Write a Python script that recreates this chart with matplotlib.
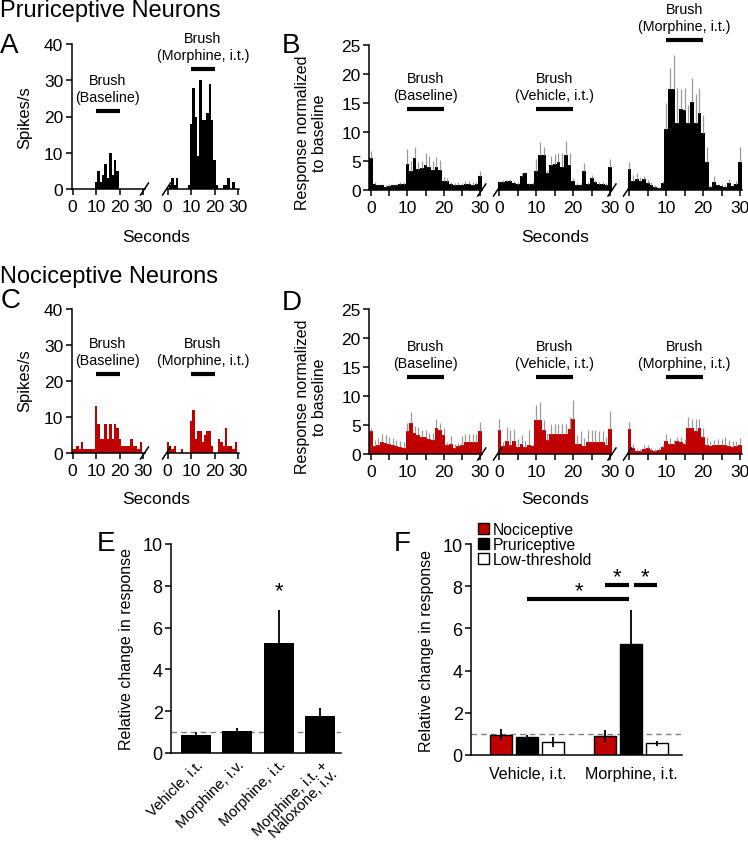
import numpy as np
import matplotlib
matplotlib.use('Agg')
import matplotlib.pyplot as plt
from matplotlib.patches import Patch

plt.rcParams['font.family'] = ['Liberation Sans', 'DejaVu Sans']

W, H = 748, 853
RED = '#c00000'
GRAY = '#9a9a9a'

# ---- PSTH data (1 s bins centred on 0..30 s) ----
# A: pruriceptive single unit, spikes/s
A_base = [0, 0, 0, 0, 0, 0, 0, 0, 0, 0, 2, 5, 2, 4, 7, 3, 10, 4, 8, 5,
          0, 0, 0, 0, 0, 0, 0, 0, 0, 0, 0]
A_morph = [0, 1, 3, 1, 3, 0, 0, 0, 0, 1, 18, 28, 20, 9, 30, 19, 19, 21, 29, 19,
           8, 1, 0, 0, 1, 1, 3, 0, 2, 0, 0]
# C: nociceptive single unit, spikes/s
C_base = [1, 1, 2, 1, 3, 1, 1, 1, 1, 1, 13, 8, 4, 4, 8, 4, 8, 4, 8, 7,
          4, 2, 2, 2, 2, 4, 2, 2, 1, 3, 0]
C_morph = [3, 2, 1, 2, 0, 0, 1, 0, 0, 0, 9, 12, 4, 6, 6, 3, 5, 6, 6, 2,
           0, 0, 4, 3, 2, 7, 2, 2, 1, 3, 0]

# B: pruriceptive population, normalized response (mean, SEM)
B_base = [5.5, 1.0, 0.8, 0.8, 0.6, 0.7, 0.8, 0.8, 1.0, 1.1, 4.4, 3.2, 5.5, 3.7, 3.8, 4.3,
          4.0, 3.5, 4.0, 3.5, 1.6, 1.6, 1.0, 0.8, 0.9, 0.8, 1.0, 1.1, 0.9, 1.0, 2.4]
B_base_sem = [1.2, 0.3, 0.3, 0.3, 0.3, 0.3, 0.3, 0.3, 0.3, 0.3, 2.6, 1.8, 1.9, 1.1, 1.2, 2.1,
              1.9, 1.5, 1.7, 1.7, 0.7, 0.4, 0.3, 0.4, 0.4, 0.4, 0.5, 0.4, 0.4, 0.4, 0.8]
B_veh = [1.3, 1.4, 1.5, 1.6, 1.2, 1.0, 2.4, 2.9, 1.0, 1.0, 3.3, 6.0, 6.0, 2.9, 4.3, 4.5,
         4.8, 4.0, 6.0, 4.3, 1.6, 0.9, 0.9, 3.3, 1.0, 2.0, 1.4, 1.0, 1.0, 0.9, 4.0]
B_veh_sem = [0.3, 0.3, 0.3, 0.3, 0.3, 0.3, 0.6, 0.2, 0.2, 0.3, 2.0, 2.2, 1.5, 0.5, 1.5, 1.7,
             1.5, 2.3, 2.5, 2.0, 0.5, 0.3, 0.3, 1.3, 0.3, 0.6, 0.3, 0.3, 0.3, 0.3, 1.3]
B_morph = [3.7, 1.6, 1.9, 1.6, 1.9, 1.2, 0.9, 0.5, 0.4, 1.2, 10.5, 17.4, 17.5, 11.5, 14.0, 13.8,
           11.5, 15.2, 11.5, 13.2, 9.8, 4.9, 0.5, 1.4, 0.8, 0.7, 0.5, 1.2, 0.7, 1.0, 4.9]
B_morph_sem = [1.2, 1.0, 1.1, 0.6, 0.5, 0.5, 0.5, 0.3, 0.2, 0.4, 4.5, 3.7, 5.7, 6.1, 3.4, 3.8,
               3.1, 4.1, 5.0, 4.4, 3.2, 2.6, 0.3, 1.1, 0.3, 0.3, 0.3, 0.7, 0.3, 0.5, 2.5]

# D: nociceptive population, normalized response (mean, SEM)
D_base = [4.0, 1.3, 1.5, 2.0, 1.9, 1.7, 1.5, 1.3, 1.2, 1.1, 3.9, 5.3, 3.7, 3.3, 2.9, 2.9,
          2.6, 2.5, 4.5, 4.1, 3.3, 1.5, 1.8, 1.1, 1.3, 1.6, 2.1, 2.1, 2.1, 2.0, 4.0]
D_base_sem = [0.4, 1.2, 1.3, 1.5, 1.3, 1.3, 1.2, 1.1, 1.0, 0.9, 1.5, 2.0, 1.2, 1.3, 1.3, 1.2,
              1.1, 1.1, 1.5, 1.3, 1.1, 0.6, 1.3, 0.6, 0.6, 1.5, 1.3, 1.4, 1.4, 1.4, 1.6]
D_veh = [4.1, 1.3, 2.3, 1.5, 2.3, 1.2, 1.8, 1.2, 1.5, 1.3, 5.8, 5.8, 4.2, 2.4, 3.4, 3.4,
         3.4, 3.5, 3.5, 4.3, 6.0, 1.7, 1.7, 1.4, 2.0, 2.0, 2.1, 2.0, 2.0, 1.6, 4.3]
D_veh_sem = [1.9, 0.7, 2.3, 2.7, 2.0, 1.4, 1.4, 1.0, 2.6, 0.5, 2.7, 3.2, 1.7, 1.2, 1.7, 1.7,
             1.7, 1.7, 1.7, 2.1, 3.3, 1.5, 2.3, 1.3, 2.2, 2.2, 2.1, 2.0, 2.0, 1.4, 3.1]
D_morph = [4.3, 1.1, 0.5, 0.6, 0.9, 1.0, 0.7, 0.6, 0.7, 1.2, 2.2, 1.7, 1.7, 2.2, 2.0, 1.7,
           4.5, 4.4, 4.0, 4.5, 3.0, 1.6, 1.3, 1.5, 1.5, 1.6, 1.6, 1.3, 1.2, 1.3, 1.6]
D_morph_sem = [1.3, 0.6, 0.3, 0.3, 0.6, 0.5, 0.3, 0.3, 0.3, 0.3, 1.2, 1.0, 0.8, 0.8, 0.9, 0.9,
               1.9, 1.7, 2.0, 1.6, 1.5, 1.4, 1.0, 0.9, 1.1, 1.0, 1.3, 1.2, 1.0, 1.0, 1.2]

# E: pruriceptive neurons, relative change
E_labels = ['Vehicle, i.t.', 'Morphine, i.v.', 'Morphine, i.t.', 'Morphine, i.t. +\nNaloxone, i.v.']
E_mean = [0.84, 1.05, 5.28, 1.79]
E_sem = [0.16, 0.14, 1.55, 0.36]

# F: by neuron class
F_groups = ['Vehicle, i.t.', 'Morphine, i.t.']
F_classes = ['Nociceptive', 'Pruriceptive', 'Low-threshold']
F_mean = {'Nociceptive': [0.97, 0.90], 'Pruriceptive': [0.84, 5.28], 'Low-threshold': [0.63, 0.55]}
F_sem = {'Nociceptive': [0.28, 0.27], 'Pruriceptive': [0.11, 1.60], 'Low-threshold': [0.23, 0.10]}
F_colors = {'Nociceptive': RED, 'Pruriceptive': 'black', 'Low-threshold': 'white'}

fig = plt.figure(figsize=(W / 100, H / 100), dpi=100)


def px_axes(left, right, top, bottom):
    return fig.add_axes([left / W, 1 - bottom / H, (right - left) / W, (bottom - top) / H])


def ftext(x, y, s, **kw):
    fig.text(x / W, 1 - y / H, s, **kw)


def segment(bounds, top, bottom, vals, sem, color, ymax, ystep, idx, nseg, minor):
    left, right = bounds
    ax = px_axes(left, right, top, bottom)
    t = np.arange(len(vals))
    v = np.asarray(vals, dtype=float)
    ax.bar(t, v, width=1.0, color=color, linewidth=0)
    if sem is not None:
        ax.vlines(t, v, v + np.asarray(sem), color=GRAY, lw=0.9)
    ax.set_xlim(-0.5, 30.5)
    ax.set_ylim(0, ymax)
    ax.spines['top'].set_visible(False)
    ax.spines['right'].set_visible(False)
    ax.spines['bottom'].set_linewidth(1.1)
    ax.set_xticks([0, 10, 20, 30])
    if minor:
        ax.set_xticks([5, 15, 25], minor=True)
    ax.tick_params(axis='x', which='both', direction='out', length=4, width=1.1,
                   labelsize=12.5, pad=3)
    if idx == 0:
        ax.spines['left'].set_linewidth(1.1)
        ax.set_yticks(np.arange(0, ymax + 1, ystep))
        ax.tick_params(axis='y', direction='out', length=4, width=1.1, labelsize=12.5, pad=2)
    else:
        ax.spines['left'].set_visible(False)
        ax.set_yticks([])
    dx, dy = 4 / (right - left), 6 / (bottom - top)
    kw = dict(transform=ax.transAxes, color='black', lw=1.1, clip_on=False)
    if idx < nseg - 1:
        ax.plot([1 - dx, 1 + dx], [-dy, dy], **kw)
    if idx > 0:
        ax.plot([-dx, dx], [-dy, dy], **kw)
    return ax


def brush(ax, y, label):
    ax.plot([10, 20], [y, y], color='black', lw=3, solid_capstyle='butt', clip_on=False)
    ax.annotate('Brush\n' + label, (15, y), xytext=(0, 5), textcoords='offset points',
                ha='center', va='bottom', fontsize=10.3, linespacing=1.3, annotation_clip=False)


AC_SEGS = [(71.5, 144.5), (166.5, 239.2)]
BD_SEGS = [(369.2, 481.8), (497.5, 612.0), (627.5, 741.8)]

# ---- A ----
for i, (vals, y, lab) in enumerate([(A_base, 21.5, '(Baseline)'), (A_morph, 33, '(Morphine, i.t.)')]):
    ax = segment(AC_SEGS[i], 45, 190, vals, None, 'black', 40, 10, i, 2, False)
    brush(ax, y, lab)
# ---- B ----
for i, (vals, sem, y, lab) in enumerate([(B_base, B_base_sem, 14, '(Baseline)'),
                                         (B_veh, B_veh_sem, 14, '(Vehicle, i.t.)'),
                                         (B_morph, B_morph_sem, 25.8, '(Morphine, i.t.)')]):
    ax = segment(BD_SEGS[i], 46, 191, vals, sem, 'black', 25, 5, i, 3, True)
    brush(ax, y, lab)
# ---- C ----
for i, (vals, lab) in enumerate([(C_base, '(Baseline)'), (C_morph, '(Morphine, i.t.)')]):
    ax = segment(AC_SEGS[i], 310, 454, vals, None, RED, 40, 10, i, 2, False)
    brush(ax, 22, lab)
# ---- D ----
for i, (vals, sem, lab) in enumerate([(D_base, D_base_sem, '(Baseline)'),
                                      (D_veh, D_veh_sem, '(Vehicle, i.t.)'),
                                      (D_morph, D_morph_sem, '(Morphine, i.t.)')]):
    ax = segment(BD_SEGS[i], 310, 455, vals, sem, RED, 25, 5, i, 3, True)
    brush(ax, 13.3, lab)

# axis labels / titles for A-D
for yb, title in [(17.5, 'Pruriceptive Neurons'), (283, 'Nociceptive Neurons')]:
    ftext(0, yb, title, fontsize=17, va='baseline', ha='left')
for x, yb, letter in [(0, 53, 'A'), (282, 53, 'B'), (1, 308, 'C'), (282, 310, 'D'),
                      (97, 551, 'E'), (394, 551, 'F')]:
    ftext(x, yb, letter, fontsize=20, va='baseline', ha='left')
for yc in (118, 381):
    ftext(25, yc, 'Spikes/s', fontsize=12, rotation=90, ha='center', va='center')
for yc in (133, 397):
    ftext(311, yc, 'Response normalized\nto baseline', fontsize=11.5, rotation=90,
          ha='center', va='center', linespacing=1.1)
for x, yc in [(156, 237), (555, 237), (156, 500), (555, 500)]:
    ftext(x, yc, 'Seconds', fontsize=12.5, ha='center', va='center')

# ---- E ----
axE = px_axes(171, 341, 545, 754)
xe = np.arange(len(E_labels))
axE.axhline(1.0, color='#808080', lw=1.0, ls=(0, (4, 3)), zorder=0)
axE.bar(xe, E_mean, width=0.72, color='black', zorder=2)
axE.errorbar(xe, E_mean, yerr=E_sem, fmt='none', ecolor='black', elinewidth=1.3, capsize=0, zorder=3)
axE.text(2, 7.75, '*', ha='center', va='center', fontsize=16)
axE.set_xlim(-0.6, 3.5)
axE.set_ylim(0, 10)
axE.set_yticks(np.arange(0, 11, 2))
axE.set_xticks(xe)
axE.set_xticklabels(E_labels, rotation=45, ha='right', va='top', rotation_mode='anchor',
                    multialignment='right', linespacing=0.95)
axE.tick_params(axis='x', length=0, labelsize=10.8, pad=3)
axE.tick_params(axis='y', direction='out', length=4, width=1.1, labelsize=13, pad=2)
axE.set_ylabel('Relative change in response', fontsize=11.5, labelpad=6)

# ---- F ----
axF = px_axes(471, 682, 545, 756)
offsets = {'Nociceptive': -1, 'Pruriceptive': 0, 'Low-threshold': 1}
centers = np.arange(len(F_groups)) * 4
axF.axhline(1.0, color='#808080', lw=1.0, ls=(0, (4, 3)), zorder=0)
for c in F_classes:
    xs = centers + offsets[c]
    axF.bar(xs, F_mean[c], width=0.85, color=F_colors[c], edgecolor='black', linewidth=1.0, zorder=2)
    axF.errorbar(xs, F_mean[c], yerr=F_sem[c], fmt='none', ecolor='black', elinewidth=1.3,
                 capsize=0, zorder=3)
p_veh, p_mor = centers[0], centers[1]
sig_kw = dict(color='black', lw=3, solid_capstyle='butt', clip_on=False)
axF.plot([p_veh, p_mor - 0.1], [7.4, 7.4], **sig_kw)
axF.plot([p_mor - 1, p_mor - 0.1], [8.05, 8.05], **sig_kw)
axF.plot([p_mor + 0.1, p_mor + 1], [8.05, 8.05], **sig_kw)
axF.text((p_veh + p_mor) / 2, 7.8, '*', ha='center', va='center', fontsize=16)
axF.text(p_mor - 0.55, 8.45, '*', ha='center', va='center', fontsize=16)
axF.text(p_mor + 0.55, 8.45, '*', ha='center', va='center', fontsize=16)
axF.set_xlim(-2.17, 5.96)
axF.set_ylim(0, 10)
axF.set_yticks(np.arange(0, 11, 2))
axF.set_xticks(centers)
axF.set_xticklabels(F_groups)
axF.tick_params(axis='x', length=0, labelsize=11.5, pad=8)
axF.tick_params(axis='y', direction='out', length=4, width=1.1, labelsize=13, pad=2)
axF.set_ylabel('Relative change in response', fontsize=11.5, labelpad=6)
handles = [Patch(facecolor=F_colors[c], edgecolor='black', linewidth=1.0) for c in F_classes]
axF.legend(handles, F_classes, loc='upper left', bbox_to_anchor=(0.035, 1.105), frameon=False,
           fontsize=11.3, handlelength=0.7, handleheight=0.7, handletextpad=0.2,
           labelspacing=0.0, borderpad=0, borderaxespad=0)

for ax in (axE, axF):
    ax.spines['top'].set_visible(False)
    ax.spines['right'].set_visible(False)
    for s in ('left', 'bottom'):
        ax.spines[s].set_linewidth(1.1)

fig.savefig('out.png', dpi=100)
